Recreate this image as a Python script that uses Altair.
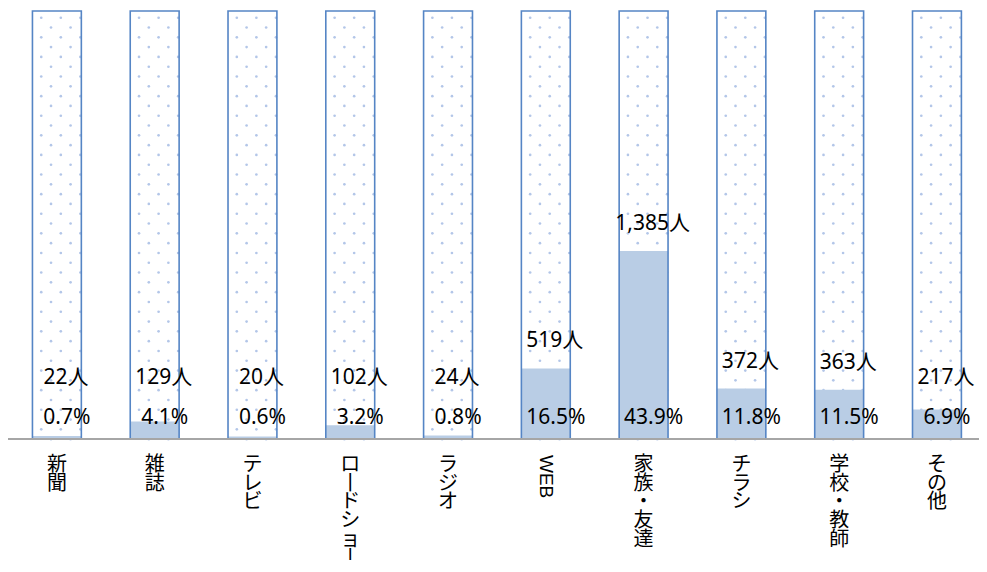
import altair as alt
import pandas as pd

categories = ["新聞", "雑誌", "テレビ", "ロードショー", "ラジオ", "WEB",
              "家族・友達", "チラシ", "学校・教師", "その他"]
counts = [22, 129, 20, 102, 24, 519, 1385, 372, 363, 217]
percents = [0.7, 4.1, 0.6, 3.2, 0.8, 16.5, 43.9, 11.8, 11.5, 6.9]

def vertical(label):
    # vertical writing: one character per line, long vowel mark drawn upright
    return "\n".join("丨" if ch == "ー" else ch for ch in label)

df = pd.DataFrame({
    "idx": list(range(len(categories))),
    "cat": categories,
    "count": counts,
    "pct": percents,
})
df["x0"] = df["idx"] - 0.25
df["x1"] = df["idx"] + 0.25
df["zero"] = 0.0
df["full"] = 100.0
df["clabel"] = [f"{c:,}人" for c in counts]
df["plabel"] = [f"{p:.1f}%" for p in percents]
df["vlabel"] = [vertical(c) for c in categories]
df["isLatin"] = [1 if c.isascii() else 0 for c in categories]
df["cpos"] = [max(p, 8) + 6.3 for p in percents]

# dotted pattern fill of the 100% frames (decoration, relative to each bar)
pat_rows = []
for i in range(len(categories)):
    for r in range(44):
        offs = [-0.16, 0.04, 0.24] if r % 2 == 0 else [-0.06, 0.14]
        for o in offs:
            pat_rows.append({"px": i + o, "py": 98.43 - r * 2.29})
pat = pd.DataFrame(pat_rows)

W, H = 971, 428
xs = alt.Scale(domain=[-0.5, 9.43], nice=False, zero=False)
ys = alt.Scale(domain=[0, 100], nice=False, zero=False)

FONT = "Noto Sans, Noto Sans CJK JP"
CJK = "Noto Sans CJK JP"

base = alt.Chart(df)

dots = alt.Chart(pat).mark_circle(size=7, color="#b3c6e8", opacity=1).encode(
    x=alt.X("px:Q", scale=xs, axis=None),
    y=alt.Y("py:Q", scale=ys, axis=None),
)

fill = base.mark_rect(color="#b9cde5").encode(
    x=alt.X("x0:Q", scale=xs, axis=None),
    x2="x1:Q",
    y=alt.Y("pct:Q", scale=ys, axis=None),
    y2="zero:Q",
)

outline = base.mark_rect(fillOpacity=0, stroke="#5585c5", strokeWidth=1.6).encode(
    x=alt.X("x0:Q", scale=xs, axis=None),
    x2="x1:Q",
    y=alt.Y("full:Q", scale=ys, axis=None),
    y2="zero:Q",
)

baseline = base.mark_rule(color="#a6a6a6", strokeWidth=2).encode(
    x=alt.value(-1), x2=alt.value(W), y=alt.Y("zero:Q", scale=ys, axis=None)
)

count_text = base.mark_text(fontSize=21, dx=9, baseline="middle", font=FONT, color="#000000").encode(
    x=alt.X("idx:Q", scale=xs, axis=None),
    y=alt.Y("cpos:Q", scale=ys, axis=None),
    text="clabel:N",
)

pct_text = base.mark_text(fontSize=21, dx=10, dy=-21, baseline="middle", font=FONT, color="#000000").encode(
    x=alt.X("idx:Q", scale=xs, axis=None),
    y=alt.Y("zero:Q", scale=ys, axis=None),
    text="plabel:N",
)

cat_text = base.transform_filter("datum.isLatin == 0").mark_text(
    fontSize=20, lineHeight=18.7, lineBreak="\n", baseline="top", align="center",
    font=CJK, color="#000000"
).encode(
    x=alt.X("idx:Q", scale=xs, axis=None),
    y=alt.value(H + 16),
    text="vlabel:N",
)

latin_text = base.transform_filter("datum.isLatin == 1").mark_text(
    fontSize=19, angle=90, align="left", baseline="middle", font="Liberation Sans", color="#000000"
).encode(
    x=alt.X("idx:Q", scale=xs, axis=None),
    y=alt.value(H + 16),
    text="cat:N",
)

chart = alt.layer(
    dots, fill, outline, baseline, count_text, pct_text, cat_text, latin_text
).properties(
    width=W, height=H,
    autosize=alt.AutoSizeParams(type="none"),
    padding={"left": 0, "right": 0, "top": 3, "bottom": 121},
).configure_view(stroke=None)

chart.save("out.html", embed_options={"renderer": "svg", "actions": False})
